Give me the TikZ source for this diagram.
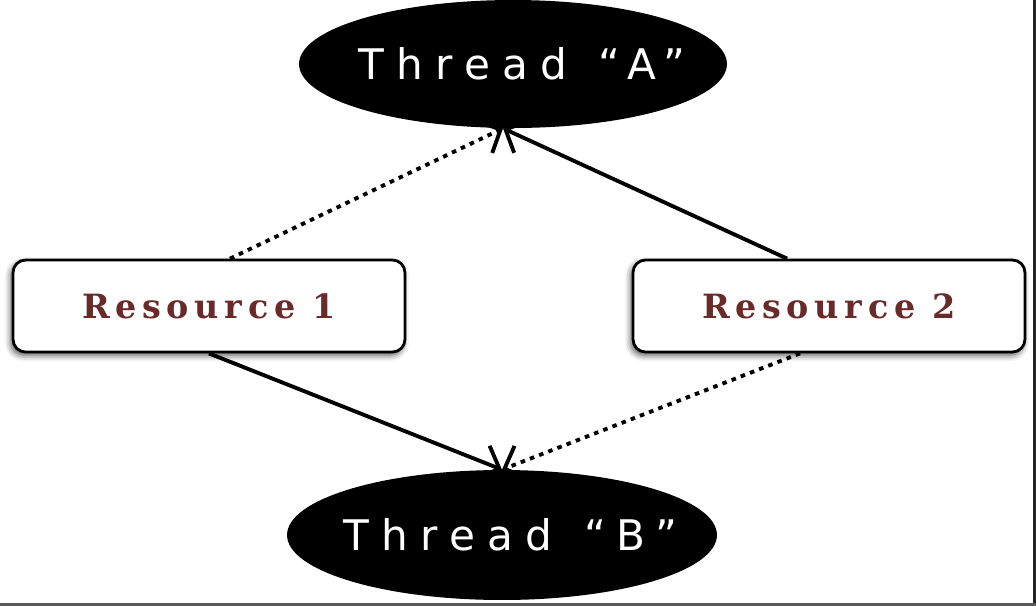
\documentclass[tikz,border=0pt]{standalone}
\usepackage{fontspec}
\usetikzlibrary{shapes.geometric, arrows.meta, shadows.blur}
\newfontfamily\threadfont{DejaVu Sans}[LetterSpace=29]
\newfontfamily\resfont{DejaVu Serif}[LetterSpace=17]
\definecolor{resbrown}{RGB}{105,42,42}
\newcommand\wordgap{\hspace{0.75em}}
\tikzset{
thread/.style={ellipse, fill=black, text=white, inner xsep=-20pt, inner ysep=0pt,
  minimum width=8.56cm, minimum height=2.56cm,
  font=\threadfont\fontsize{24}{29}\selectfont},
resource/.style={draw, line width=1.6pt, rounded corners=0.25cm, fill=white,
  minimum width=7.84cm, minimum height=1.84cm, text=resbrown,
  font=\resfont\bfseries\fontsize{19}{23}\selectfont,
  blur shadow={shadow xshift=-1.2pt, shadow yshift=-1.8pt, shadow blur radius=3.5pt, shadow opacity=70}},
holds/.style={line width=2.2pt, -{Straight Barb[length=10pt, width=20pt]}},
wants/.style={holds, dash pattern=on 2.6pt off 3pt}
}

\begin{document}
\begin{tikzpicture}[x=0.02cm, y=-0.02cm]
\useasboundingbox (0,0) rectangle (1036,606);
\node[thread] (threadA) at (513,64) {\hspace{10pt}Thread\wordgap“A”};
\node[thread, minimum width=8.6cm, minimum height=2.6cm] (threadB) at (502,535) {\hspace{10pt}Thread\wordgap“B”};
\node[resource] (res1) at (209,306) {Resource 1};
\node[resource] (res2) at (829,306) {Resource 2};
% resource 1: held by B, wanted by A
\draw[wants] ([xshift=0.42cm]res1.north) -- ([xshift=-0.2cm]threadA.south);
\draw[holds] (res1.south) -- (threadB.north);
% resource 2: held by A, wanted by B
\draw[holds] ([xshift=-0.84cm]res2.north) -- ([xshift=-0.2cm]threadA.south);
\draw[wants] ([xshift=-0.58cm]res2.south) -- (threadB.north);
% screenshot edge
\draw[black!85, line width=1.7pt] (1034.5,0) -- (1034.5,606);
\draw[black!65, line width=1.7pt] (0,604.5) -- (1036,604.5);
\end{tikzpicture}
\end{document}
